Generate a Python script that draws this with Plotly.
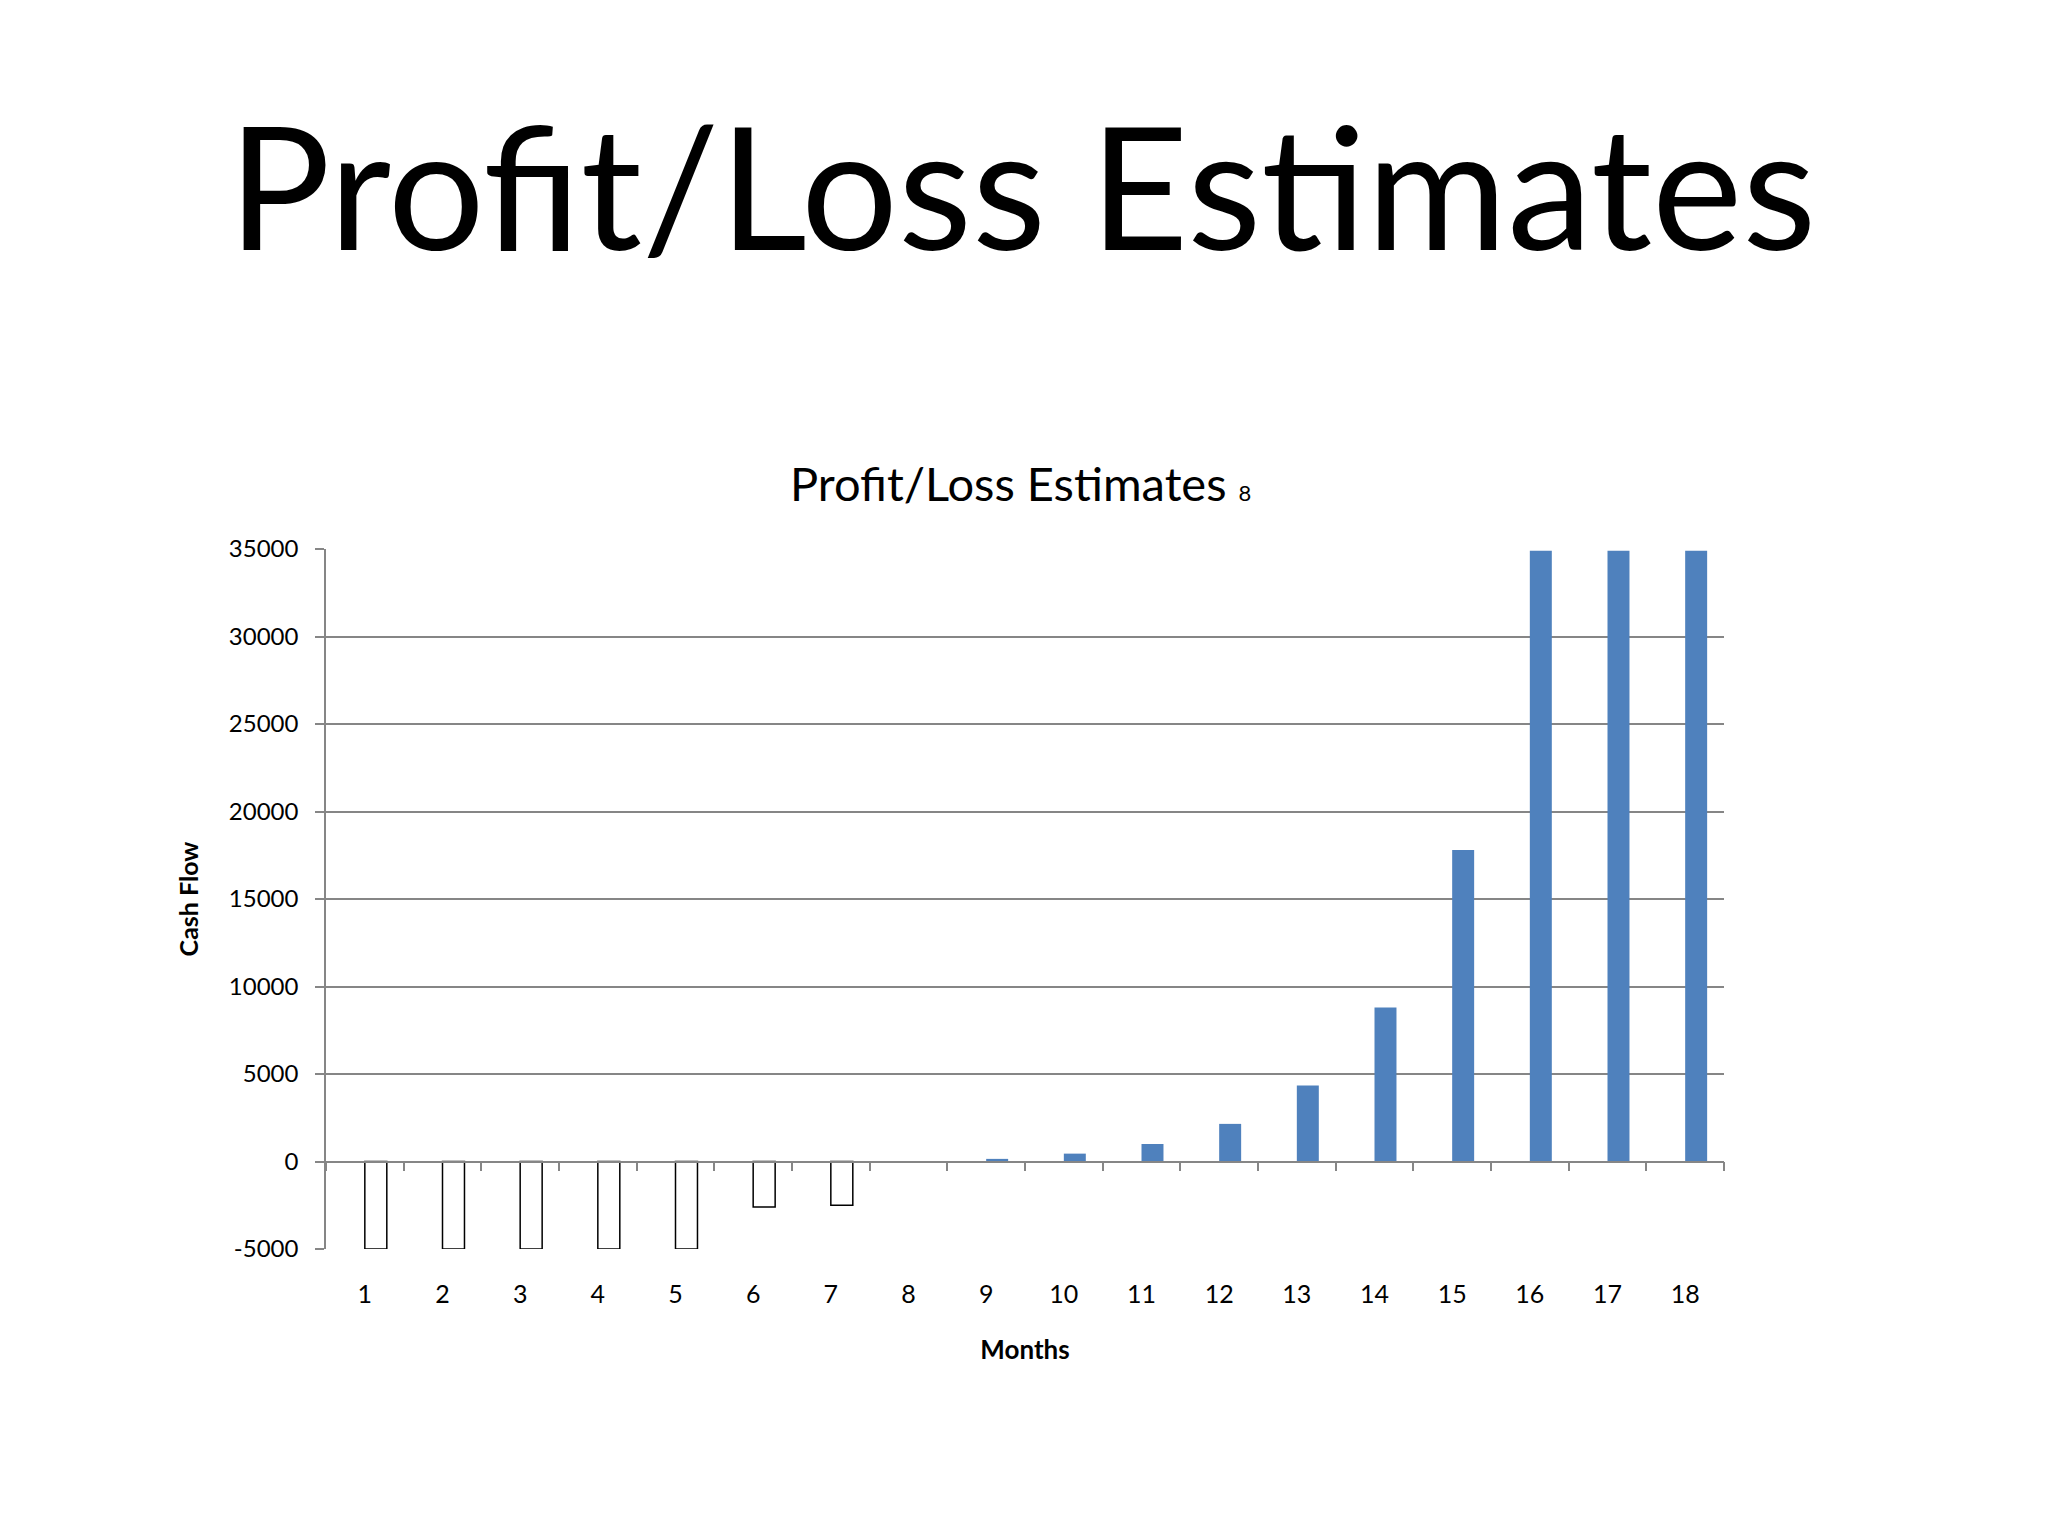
import plotly.graph_objects as go

# chart values
months = ["1", "2", "3", "4", "5", "6", "7", "8", "9",
          "10", "11", "12", "13", "14", "15", "16", "17", "18"]
cash_flow = [-5000, -5000, -5000, -5000, -5000, -2600, -2500, 0, 150,
             450, 1000, 2150, 4350, 8800, 17800, 34900, 34900, 34900]
y_ticks = [-5000, 0, 5000, 10000, 15000, 20000, 25000, 30000, 35000]
y_labels = [str(v) for v in y_ticks]

loss_x = [m for m, v in zip(months, cash_flow) if v < 0]
loss_y = [v for v in cash_flow if v < 0]
gain_x = [m for m, v in zip(months, cash_flow) if v > 0]
gain_y = [v for v in cash_flow if v > 0]

GRID = "#868686"
FONT = "Lato"

fig = go.Figure()
fig.add_trace(go.Bar(x=loss_x, y=loss_y, xaxis="x", yaxis="y",
                     width=0.283, offset=0,
                     marker=dict(color="white", line=dict(color="black", width=1.5))))
fig.add_trace(go.Bar(x=gain_x, y=gain_y, xaxis="x2", yaxis="y",
                     width=0.283, offset=0,
                     marker=dict(color="#4F81BD", line=dict(width=0))))

# page body has an 8px margin, so the figure is 8px smaller and shifted
fig.update_layout(
    width=2040, height=1528,
    margin=dict(l=318, r=324, t=541, b=287),
    paper_bgcolor="white", plot_bgcolor="white",
    showlegend=False,
    font=dict(family=FONT, color="black", size=24),
    xaxis=dict(type="category", categoryorder="array", categoryarray=months,
               range=[-0.5, 17.5], showgrid=False, showline=False, zeroline=False,
               ticks="outside", ticklen=23, tickcolor="rgba(0,0,0,0)",
               tickfont=dict(size=25),
               title=dict(text="<b>Months</b>", font=dict(size=26), standoff=33)),
    xaxis2=dict(type="category", categoryorder="array", categoryarray=months,
                range=[-0.5, 17.5], overlaying="x", anchor="free", position=0.125,
                side="bottom", showgrid=False, zeroline=False,
                showline=True, linecolor=GRID, linewidth=1.5,
                ticks="outside", tickson="boundaries", ticklen=9, tickwidth=1.5,
                tickcolor=GRID, showticklabels=False),
    yaxis=dict(range=[-5000, 35000], tickvals=y_ticks, ticktext=y_labels,
               showgrid=True, gridcolor=GRID, gridwidth=1.5, zeroline=False,
               showline=True, linecolor=GRID, linewidth=1.5,
               ticks="outside", ticklen=9, tickwidth=1.5, tickcolor=GRID,
               ticklabelstandoff=12, tickfont=dict(size=24),
               title=dict(text="<b>Cash Flow</b>", font=dict(size=25), standoff=23)),
)

fig.add_annotation(text="Profit/Loss Estimates", xref="paper", yref="paper",
                   x=0.498, y=1.522, xanchor="center", yanchor="middle",
                   showarrow=False, font=dict(family=FONT, size=171, color="black"))
fig.add_annotation(text="Profit/Loss Estimates <span style='font-size:22px'>8</span>",
                   xref="paper", yref="paper", x=0.497, y=1.094,
                   xanchor="center", yanchor="middle", showarrow=False,
                   font=dict(family=FONT, size=47, color="black"))

fig.write_html("out.html")
